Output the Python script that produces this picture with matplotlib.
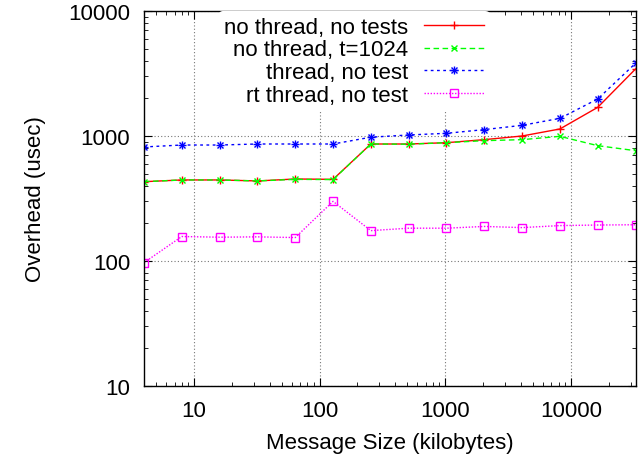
import matplotlib
matplotlib.use("Agg")
import matplotlib.pyplot as plt
from matplotlib.ticker import FixedLocator, FixedFormatter, LogLocator, NullFormatter
from matplotlib.legend_handler import HandlerTuple

plt.rcParams['font.family'] = ['Liberation Sans', 'DejaVu Sans']

sizes = [4, 8, 16, 32, 64, 128, 256, 512, 1024, 2048, 4096, 8192, 16384, 32768]
no_thread_no_tests = [431, 445, 445, 437, 453, 450, 863, 863, 884, 935, 1000, 1138, 1695, 3435]
no_thread_t1024 = [431, 445, 445, 437, 450, 448, 863, 860, 884, 918, 935, 994, 837, 763]
thread_no_test = [817, 847, 847, 863, 863, 863, 978, 1019, 1051, 1125, 1217, 1384, 1977, 3814]
rt_thread_no_test = [97, 157, 155, 156, 154, 300, 175, 183, 183, 189, 185, 192, 194, 195]

labels = ["no thread, no tests", "no thread, t=1024", "thread, no test", "rt thread, no test"]
major_ticks = [10, 100, 1000, 10000]
major_labels = ["10", "100", "1000", "10000"]

fig = plt.figure(figsize=(6.44, 4.60), dpi=100)
ax = fig.add_axes([144/644, 1 - 387/460, (635.5 - 144)/644, (387 - 12)/460])
ax.set_xscale('log')
ax.set_yscale('log')

fs = 16
lw = 1.0
ms = 5.5

h1, = ax.plot(sizes, no_thread_no_tests, color='#ff0000', lw=lw, ls='-', marker='+', ms=ms, mew=1.0)
h2, = ax.plot(sizes, no_thread_t1024, color='#00ff00', lw=lw, ls=(0, (4, 2.5)), marker='x', ms=ms*0.9, mew=1.0)
h3a, = ax.plot(sizes, thread_no_test, color='#0000ff', lw=lw, ls=(0, (2, 2.5)), marker='+', ms=ms, mew=1.0)
h3b, = ax.plot(sizes, thread_no_test, color='#0000ff', lw=0, marker='x', ms=ms*0.8, mew=1.0)
h4, = ax.plot(sizes, rt_thread_no_test, color='#ff00ff', lw=lw, ls=(0, (1, 1.2)), marker='s', ms=ms, mew=1.0, mfc='none')

ax.set_xlim(4, 32768)
ax.set_ylim(10, 10000)

ax.xaxis.set_major_locator(FixedLocator(major_ticks))
ax.xaxis.set_major_formatter(FixedFormatter(major_labels))
ax.yaxis.set_major_locator(FixedLocator(major_ticks))
ax.yaxis.set_major_formatter(FixedFormatter(major_labels))
ax.xaxis.set_minor_locator(LogLocator(base=10, subs=range(2, 10), numticks=20))
ax.yaxis.set_minor_locator(LogLocator(base=10, subs=range(2, 10), numticks=20))
ax.xaxis.set_minor_formatter(NullFormatter())
ax.yaxis.set_minor_formatter(NullFormatter())

ax.tick_params(which='both', direction='in', top=True, right=True, labelsize=fs, colors='black')
ax.tick_params(which='major', length=6, width=0.8, pad=10)
ax.tick_params(which='minor', length=3, width=0.6)

ax.grid(True, which='major', color='#777777', ls=(0, (1, 2)), lw=0.8)
for s in ax.spines.values():
    s.set_linewidth(1.0)
    s.set_color('black')

ax.set_xlabel("Message Size (kilobytes)", fontsize=fs, labelpad=8)
ax.set_ylabel("Overhead (usec)", fontsize=fs, labelpad=16)

leg = ax.legend([h1, h2, (h3a, h3b), h4], labels,
                handler_map={tuple: HandlerTuple(ndivide=1, pad=0)},
                loc='upper right', bbox_to_anchor=(0.703, 1.0),
                markerfirst=False, frameon=True, fontsize=fs,
                handlelength=2.7, handletextpad=0.7, labelspacing=0.08,
                borderpad=0.25, borderaxespad=0.0)
leg.get_frame().set_facecolor('white')
leg.get_frame().set_edgecolor('none')
leg.get_frame().set_alpha(1.0)

fig.savefig("out.png", dpi=100)
